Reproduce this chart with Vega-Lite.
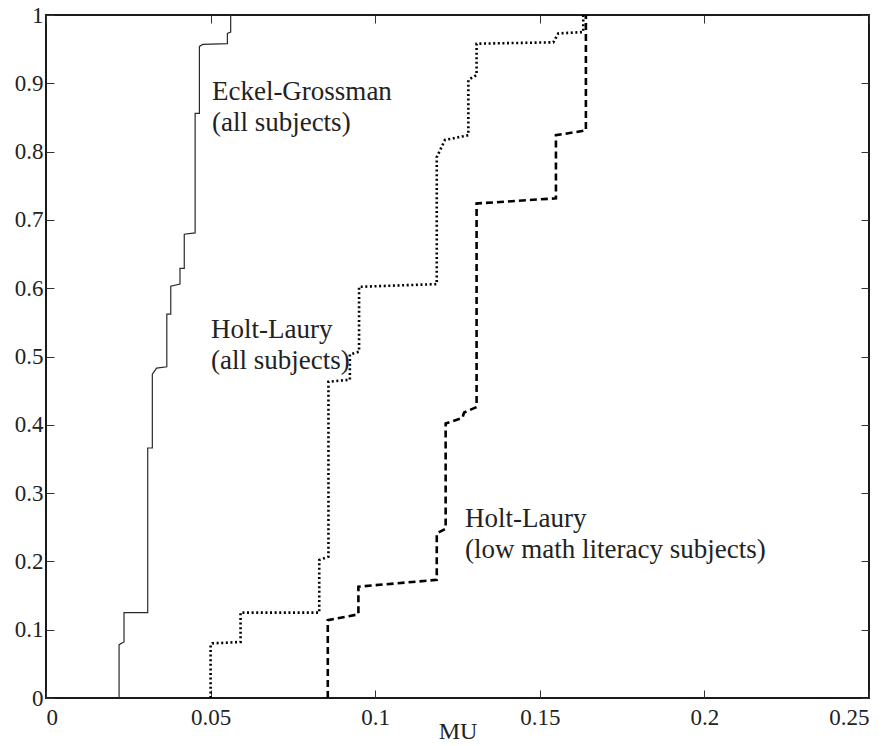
{
  "$schema": "https://vega.github.io/schema/vega-lite/v6.json",
  "width": 823,
  "height": 683,
  "autosize": {"type": "none"},
  "padding": {"left": 46, "top": 15, "right": 27, "bottom": 48},
  "background": "white",
  "config": {
    "view": {"stroke": "#1a1a1a", "strokeWidth": 2},
    "axis": {
      "grid": false,
      "domain": false,
      "tickColor": "#333",
      "tickWidth": 1,
      "tickSize": -8,
      "labelFont": "'Liberation Serif', 'Times New Roman', serif",
      "labelFontSize": 23,
      "labelColor": "#222",
      "titleFont": "'Liberation Serif', 'Times New Roman', serif",
      "titleFontSize": 24,
      "titleFontWeight": "normal",
      "titleColor": "#222"
    }
  },
  "datasets": {
    "eckel": [
      {"k": 1, "mu": 0.0222, "F": 0},
      {"k": 2, "mu": 0.0222, "F": 0.078},
      {"k": 3, "mu": 0.0237, "F": 0.082},
      {"k": 4, "mu": 0.0237, "F": 0.125},
      {"k": 5, "mu": 0.0309, "F": 0.125},
      {"k": 6, "mu": 0.0309, "F": 0.366},
      {"k": 7, "mu": 0.0323, "F": 0.366},
      {"k": 8, "mu": 0.0323, "F": 0.474},
      {"k": 9, "mu": 0.0336, "F": 0.483},
      {"k": 10, "mu": 0.0367, "F": 0.485},
      {"k": 11, "mu": 0.0367, "F": 0.562},
      {"k": 12, "mu": 0.0379, "F": 0.562},
      {"k": 13, "mu": 0.0379, "F": 0.603},
      {"k": 14, "mu": 0.0407, "F": 0.606},
      {"k": 15, "mu": 0.0407, "F": 0.629},
      {"k": 16, "mu": 0.042, "F": 0.629},
      {"k": 17, "mu": 0.042, "F": 0.679},
      {"k": 18, "mu": 0.0453, "F": 0.681},
      {"k": 19, "mu": 0.0453, "F": 0.856},
      {"k": 20, "mu": 0.0466, "F": 0.856},
      {"k": 21, "mu": 0.0466, "F": 0.954},
      {"k": 22, "mu": 0.0476, "F": 0.957},
      {"k": 23, "mu": 0.0551, "F": 0.958},
      {"k": 24, "mu": 0.0551, "F": 0.973},
      {"k": 25, "mu": 0.0561, "F": 0.975},
      {"k": 26, "mu": 0.0561, "F": 1}
    ],
    "hlAll": [
      {"k": 1, "mu": 0.05, "F": 0},
      {"k": 2, "mu": 0.05, "F": 0.078},
      {"k": 3, "mu": 0.0505, "F": 0.08},
      {"k": 4, "mu": 0.0591, "F": 0.082},
      {"k": 5, "mu": 0.0591, "F": 0.125},
      {"k": 6, "mu": 0.083, "F": 0.125},
      {"k": 7, "mu": 0.083, "F": 0.202},
      {"k": 8, "mu": 0.0858, "F": 0.207},
      {"k": 9, "mu": 0.0858, "F": 0.463},
      {"k": 10, "mu": 0.0923, "F": 0.466},
      {"k": 11, "mu": 0.0923, "F": 0.503},
      {"k": 12, "mu": 0.0951, "F": 0.507},
      {"k": 13, "mu": 0.0951, "F": 0.602},
      {"k": 14, "mu": 0.1187, "F": 0.606},
      {"k": 15, "mu": 0.1187, "F": 0.792},
      {"k": 16, "mu": 0.1212, "F": 0.817},
      {"k": 17, "mu": 0.1283, "F": 0.824},
      {"k": 18, "mu": 0.1283, "F": 0.905},
      {"k": 19, "mu": 0.1308, "F": 0.912},
      {"k": 20, "mu": 0.1308, "F": 0.958},
      {"k": 21, "mu": 0.1541, "F": 0.96},
      {"k": 22, "mu": 0.1556, "F": 0.973},
      {"k": 23, "mu": 0.1632, "F": 0.975},
      {"k": 24, "mu": 0.1632, "F": 1}
    ],
    "hlLow": [
      {"k": 1, "mu": 0.0856, "F": 0},
      {"k": 2, "mu": 0.0856, "F": 0.114},
      {"k": 3, "mu": 0.0949, "F": 0.1225},
      {"k": 4, "mu": 0.0949, "F": 0.163},
      {"k": 5, "mu": 0.1187, "F": 0.173},
      {"k": 6, "mu": 0.1187, "F": 0.241},
      {"k": 7, "mu": 0.1214, "F": 0.248},
      {"k": 8, "mu": 0.1214, "F": 0.402},
      {"k": 9, "mu": 0.1265, "F": 0.41},
      {"k": 10, "mu": 0.127, "F": 0.418},
      {"k": 11, "mu": 0.1308, "F": 0.426},
      {"k": 12, "mu": 0.1308, "F": 0.724},
      {"k": 13, "mu": 0.1549, "F": 0.7316},
      {"k": 14, "mu": 0.1549, "F": 0.824},
      {"k": 15, "mu": 0.164, "F": 0.831},
      {"k": 16, "mu": 0.164, "F": 1}
    ],
    "notes": [
      {"mu": 0.0504, "F": 0.8755, "label": "Eckel-Grossman\n(all subjects)"},
      {"mu": 0.0501, "F": 0.527, "label": "Holt-Laury\n(all subjects)"},
      {"mu": 0.1273, "F": 0.2504, "label": "Holt-Laury\n(low math literacy subjects)"}
    ]
  },
  "layer": [
    {
      "data": {"name": "eckel"},
      "mark": {"type": "line", "color": "#2a2a2a", "strokeWidth": 1.2},
      "encoding": {
        "x": {
          "field": "mu", "type": "quantitative",
          "scale": {"domain": [0, 0.25], "nice": false, "zero": false},
          "axis": {"values": [0, 0.05, 0.1, 0.15, 0.2, 0.25], "format": "~g", "title": "MU", "labelPadding": 16, "titlePadding": -10}
        },
        "y": {
          "field": "F", "type": "quantitative",
          "scale": {"domain": [0, 1], "nice": false},
          "axis": {"values": [0, 0.1, 0.2, 0.3, 0.4, 0.5, 0.6, 0.7, 0.8, 0.9, 1], "format": "~g", "title": null, "labelPadding": 11}
        },
        "order": {"field": "k", "type": "quantitative"}
      }
    },
    {
      "data": {"name": "hlAll"},
      "mark": {"type": "line", "color": "#000", "strokeWidth": 2.6, "strokeDash": [2, 2.6]},
      "encoding": {
        "x": {"field": "mu", "type": "quantitative", "axis": null},
        "y": {"field": "F", "type": "quantitative", "axis": null},
        "order": {"field": "k", "type": "quantitative"}
      }
    },
    {
      "data": {"name": "hlLow"},
      "mark": {"type": "line", "color": "#000", "strokeWidth": 2.6, "strokeDash": [7, 4]},
      "encoding": {
        "x": {"field": "mu", "type": "quantitative", "axis": null},
        "y": {"field": "F", "type": "quantitative", "axis": null},
        "order": {"field": "k", "type": "quantitative"}
      }
    },
    {
      "data": {"name": "notes"},
      "mark": {"type": "text", "align": "left", "baseline": "alphabetic", "lineBreak": "\n", "lineHeight": 31, "font": "'Liberation Serif', 'Times New Roman', serif", "fontSize": 27, "color": "#222"},
      "encoding": {
        "x": {
          "field": "mu", "type": "quantitative",
          "axis": {"orient": "top", "values": [0, 0.05, 0.1, 0.15, 0.2, 0.25], "labels": false, "title": null}
        },
        "y": {
          "field": "F", "type": "quantitative",
          "axis": {"orient": "right", "values": [0, 0.1, 0.2, 0.3, 0.4, 0.5, 0.6, 0.7, 0.8, 0.9, 1], "labels": false, "title": null}
        },
        "text": {"field": "label", "type": "nominal"}
      }
    }
  ],
  "resolve": {"axis": {"x": "independent", "y": "independent"}}
}
